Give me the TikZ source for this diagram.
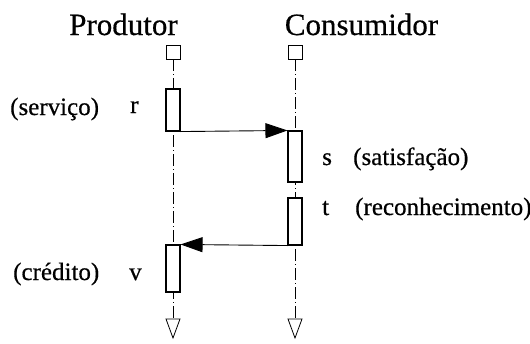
\documentclass[tikz,border=0pt]{standalone}
\usepackage{fontspec}
\setmainfont{Liberation Serif}[FakeBold=0.5]
\usetikzlibrary{arrows.meta}
\begin{document}
\begin{tikzpicture}[x=1pt,y=-1pt,
  head/.style={font=\fontsize{31}{31}\selectfont, anchor=base, inner sep=0pt},
  lbl/.style={font=\fontsize{25}{25}\selectfont, anchor=base west, inner sep=0pt},
  topbox/.style={draw, line width=0.8pt, fill=white, minimum width=14pt, minimum height=14pt, inner sep=0pt},
  actbox/.style={draw, line width=1.1pt, fill=white, minimum width=14pt, inner sep=0pt},
  lifeline/.style={line width=0.8pt, dash pattern=on 12pt off 3pt on 1pt off 3pt},
  msg/.style={line width=0.9pt, -{Triangle[length=22pt,width=15pt]}},
  endmark/.style={draw, line width=0.8pt, fill=white}]
\useasboundingbox (0,0) rectangle (530,343);
% headers
\node[head] (hp) at (123.5,35) {Produtor};
\node[head] (hc) at (361.5,35) {Consumidor};
% top squares
\node[topbox] (pa) at (173,52) {};
\node[topbox] (pb) at (295,52) {};
% lifeline ends
\coordinate (ea) at (173,319);
\coordinate (eb) at (295,319);
\draw[lifeline] (pa.south) -- (ea);
\draw[lifeline] (pb.south) -- (eb);
\draw[endmark] (166,319) -- (180,319) -- (173,338) -- cycle;
\draw[endmark] (288,319) -- (302,319) -- (295,338) -- cycle;
% activation boxes
\node[actbox, minimum height=42pt] (r) at (173,110) {};
\node[actbox, minimum height=51pt] (s) at (295,156.5) {};
\node[actbox, minimum height=47pt] (t) at (295,221.5) {};
\node[actbox, minimum height=47pt] (v) at (173,268.5) {};
% messages
\draw[msg] (r.south east) -- (s.north west);
\draw[msg] (t.south west) -- (v.north east);
% labels
\node[lbl] (lserv) at (10,115) {(serviço)};
\node[lbl] (lr) at (130,113) {r};
\node[lbl] (ls) at (322,165) {s};
\node[lbl] (lsat) at (353,165) {(satisfação)};
\node[lbl] (lt) at (322,215) {t};
\node[lbl] (lrec) at (355,215) {(reconhecimento)};
\node[lbl] (lcred) at (13,280) {(crédito)};
\node[lbl] (lv) at (129,280) {v};
\end{tikzpicture}
\end{document}
